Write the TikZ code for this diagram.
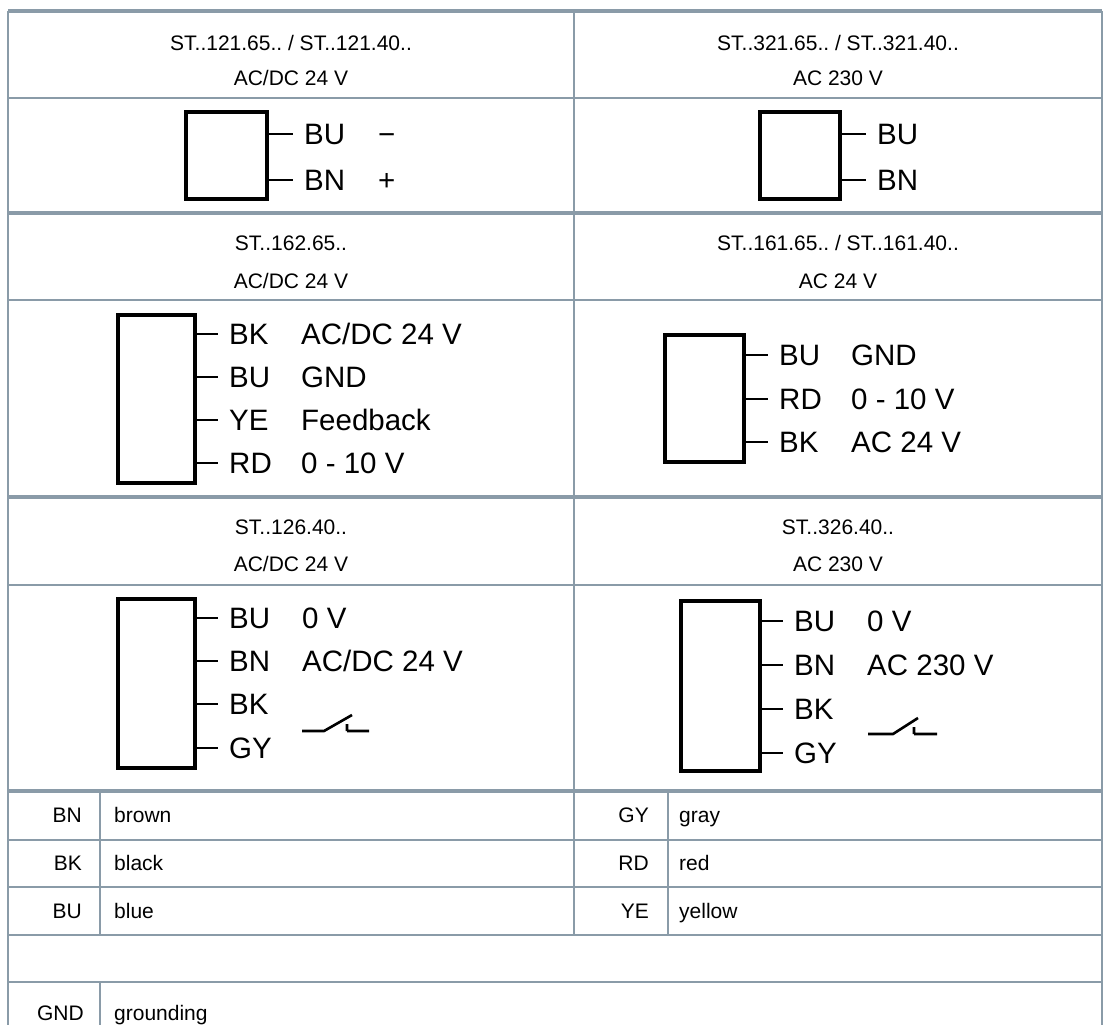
\documentclass[tikz,border=0pt]{standalone}
\usepackage{fontspec}
\setmainfont{Liberation Sans}
\frenchspacing
\usetikzlibrary{positioning}
\definecolor{rulegray}{RGB}{138,155,168}
\tikzset{
  thinrule/.style={draw=rulegray, line width=1.8pt},
  thickrule/.style={draw=rulegray, line width=3.3pt},
  devbox/.style={draw, line width=3.6pt, inner sep=0pt},
  stub/.style={line width=2.6pt},
  hdr/.style={font=\fontsize{21}{25}\selectfont, text height=15pt, text depth=0pt, inner sep=0pt},
  wire/.style={font=\fontsize{29.5}{34}\selectfont, anchor=west, text height=21.1pt, text depth=0pt, inner sep=0pt},
  keyl/.style={hdr, anchor=east},
  keyr/.style={hdr, anchor=west},
}
\begin{document}
\begin{tikzpicture}[x=1pt,y=-1pt]
          \useasboundingbox (0,0) rectangle (1104,1025);
          \draw[thickrule] (8,11) -- (1102,11) (8,213) -- (1102,213)
                (8,497) -- (1102,497) (8,791) -- (1102,791);
          \draw[thinrule] (8,98) -- (1102,98) (8,300) -- (1102,300) (8,585) -- (1102,585)
                (8,840) -- (1102,840) (8,887) -- (1102,887) (8,935) -- (1102,935) (8,982) -- (1102,982);
          \draw[thinrule] (8,11) -- (8,1025) (1102,11) -- (1102,1025) (574,11) -- (574,935)
                (100,791) -- (100,935) (100,982) -- (100,1025) (668,791) -- (668,935);

          % headers
          \node[hdr] (h1a) at (291,43) {ST..121.65.. / ST..121.40..};
          \node[hdr] (h1b) at (291,78) {AC/DC 24 V};
          \node[hdr] (h2a) at (838,43) {ST..321.65.. / ST..321.40..};
          \node[hdr] (h2b) at (838,78) {AC 230 V};
          \node[hdr] (h3a) at (291,243) {ST..162.65..};
          \node[hdr] (h3b) at (291,281) {AC/DC 24 V};
          \node[hdr] (h4a) at (838,243) {ST..161.65.. / ST..161.40..};
          \node[hdr] (h4b) at (838,281) {AC 24 V};
          \node[hdr] (h5a) at (291,527) {ST..126.40..};
          \node[hdr] (h5b) at (291,564) {AC/DC 24 V};
          \node[hdr] (h6a) at (838,527) {ST..326.40..};
          \node[hdr] (h6b) at (838,564) {AC 230 V};

          % actuators
          \node[devbox, minimum width=81pt, minimum height=87pt] (act1) at (226.5,155.5) {};
          \node[wire] (a1w1) at (304,134) {BU};
          \node[wire] (a1w2) at (304,180) {BN};
          \node[wire] at (378,134) {−};
          \node[wire] at (378,180) {+};
          \draw[stub] (act1.east |- a1w1.west) -- ([xshift=-11pt]a1w1.west)
                (act1.east |- a1w2.west) -- ([xshift=-11pt]a1w2.west);

          \node[devbox, minimum width=80pt, minimum height=87pt] (act2) at (800,155.5) {};
          \node[wire] (a2w1) at (877,134) {BU};
          \node[wire] (a2w2) at (877,180) {BN};
          \draw[stub] (act2.east |- a2w1.west) -- ([xshift=-11pt]a2w1.west)
                (act2.east |- a2w2.west) -- ([xshift=-11pt]a2w2.west);

          \node[devbox, minimum width=77pt, minimum height=168pt] (act3) at (156.5,399) {};
          \node[wire] (a3w1) at (229,334) {BK};
          \node[wire] (a3w2) at (229,377) {BU};
          \node[wire] (a3w3) at (229,420) {YE};
          \node[wire] (a3w4) at (229,463) {RD};
          \node[wire] at (301,334) {AC/DC 24 V};
          \node[wire] at (301,377) {GND};
          \node[wire] at (301,420) {Feedback};
          \node[wire] at (301,463) {0 - 10 V};
          \draw[stub] (act3.east |- a3w1.west) -- ([xshift=-11pt]a3w1.west)
                (act3.east |- a3w2.west) -- ([xshift=-11pt]a3w2.west)
                (act3.east |- a3w3.west) -- ([xshift=-11pt]a3w3.west)
                (act3.east |- a3w4.west) -- ([xshift=-11pt]a3w4.west);

          \node[devbox, minimum width=79pt, minimum height=127pt] (act4) at (704.5,398.5) {};
          \node[wire] (a4w1) at (779,355) {BU};
          \node[wire] (a4w2) at (779,399) {RD};
          \node[wire] (a4w3) at (779,442) {BK};
          \node[wire] at (851,355) {GND};
          \node[wire] at (851,399) {0 - 10 V};
          \node[wire] at (851,442) {AC 24 V};
          \draw[stub] (act4.east |- a4w1.west) -- ([xshift=-11pt]a4w1.west)
                (act4.east |- a4w2.west) -- ([xshift=-11pt]a4w2.west)
                (act4.east |- a4w3.west) -- ([xshift=-11pt]a4w3.west);

          \node[devbox, minimum width=77pt, minimum height=169pt] (act5) at (156.5,683.5) {};
          \node[wire] (a5w1) at (229,618) {BU};
          \node[wire] (a5w2) at (229,661) {BN};
          \node[wire] (a5w3) at (229,704) {BK};
          \node[wire] (a5w4) at (229,748) {GY};
          \node[wire] at (302,618) {0 V};
          \node[wire] at (302,661) {AC/DC 24 V};
          \draw[stub] (act5.east |- a5w1.west) -- ([xshift=-11pt]a5w1.west)
                (act5.east |- a5w2.west) -- ([xshift=-11pt]a5w2.west)
                (act5.east |- a5w3.west) -- ([xshift=-11pt]a5w3.west)
                (act5.east |- a5w4.west) -- ([xshift=-11pt]a5w4.west);
          \coordinate (sw5) at (302,731);
          \draw[stub] (sw5) -- ++(22,0) -- ++(28,-16)
                ([xshift=45pt]sw5) -- ++(0,-7) ([xshift=45pt]sw5) -- ++(22,0);

          \node[devbox, minimum width=79pt, minimum height=170pt] (act6) at (720.5,686) {};
          \node[wire] (a6w1) at (794,621) {BU};
          \node[wire] (a6w2) at (794,665) {BN};
          \node[wire] (a6w3) at (794,709) {BK};
          \node[wire] (a6w4) at (794,753) {GY};
          \node[wire] at (867,621) {0 V};
          \node[wire] at (867,665) {AC 230 V};
          \draw[stub] (act6.east |- a6w1.west) -- ([xshift=-11pt]a6w1.west)
                (act6.east |- a6w2.west) -- ([xshift=-11pt]a6w2.west)
                (act6.east |- a6w3.west) -- ([xshift=-11pt]a6w3.west)
                (act6.east |- a6w4.west) -- ([xshift=-11pt]a6w4.west);
          \coordinate (sw6) at (868,734);
          \draw[stub] (sw6) -- ++(25,0) -- ++(25,-16)
                ([xshift=46pt]sw6) -- ++(0,-7) ([xshift=46pt]sw6) -- ++(23,0);

          % colour key
          \node[keyl] (kBN) at (82,815) {BN};  \node[keyr] (vBN) at (114,815) {brown};
          \node[keyl] (kBK) at (82,863) {BK};  \node[keyr] (vBK) at (114,863) {black};
          \node[keyl] (kBU) at (82,911) {BU};  \node[keyr] (vBU) at (114,911) {blue};
          \node[keyl] (kGY) at (649,815) {GY}; \node[keyr] (vGY) at (679,815) {gray};
          \node[keyl] (kRD) at (649,863) {RD}; \node[keyr] (vRD) at (679,863) {red};
          \node[keyl] (kYE) at (649,911) {YE}; \node[keyr] (vYE) at (679,911) {yellow};
          \node[keyl] (kGND) at (84,1013) {GND}; \node[keyr] (vGND) at (114,1013) {grounding};
        \end{tikzpicture}
\end{document}
